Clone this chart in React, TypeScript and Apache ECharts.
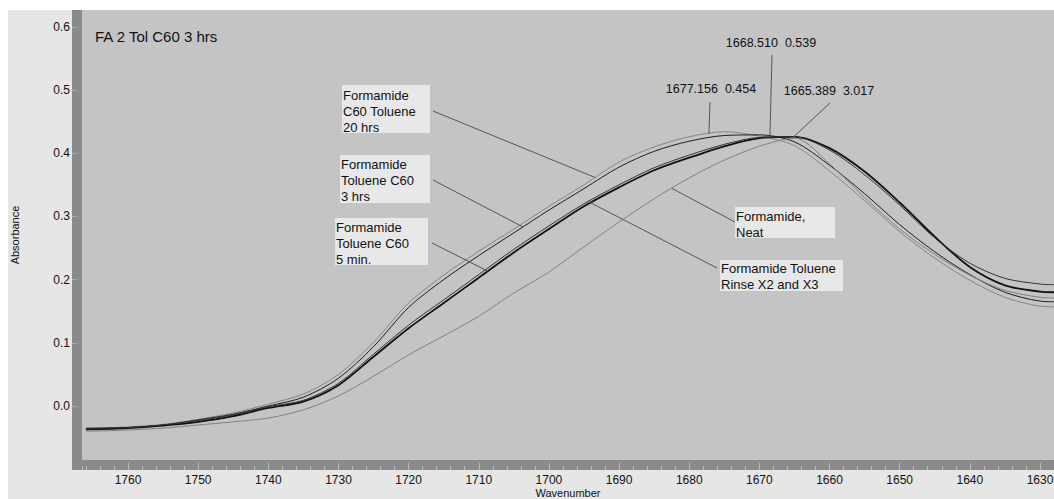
import React, { useEffect, useRef } from "react";
import * as echarts from "echarts";

const wavenumbers = [1766, 1760, 1755, 1750, 1745, 1740, 1735, 1730, 1725, 1720, 1715, 1710, 1705, 1700, 1695, 1690, 1685, 1680, 1675, 1670, 1665, 1660, 1655, 1650, 1645, 1640, 1635, 1630, 1628];

// 20 hrs (gray, highest on rising edge)
const curveT1 = [-0.036, -0.033, -0.029, -0.021, -0.011, 0.003, 0.019, 0.05, 0.101, 0.163, 0.207, 0.245, 0.28, 0.316, 0.35, 0.386, 0.41, 0.426, 0.434, 0.427, 0.412, 0.372, 0.325, 0.276, 0.234, 0.199, 0.172, 0.158, 0.157];
// 3 hrs (black)
const curveT2 = [-0.035, -0.034, -0.03, -0.022, -0.013, 0.0, 0.014, 0.044, 0.094, 0.156, 0.2, 0.238, 0.274, 0.31, 0.344, 0.378, 0.403, 0.419, 0.428, 0.429, 0.418, 0.381, 0.336, 0.287, 0.244, 0.208, 0.18, 0.166, 0.165];
// 5 min (thick black)
const curveM1 = [-0.037, -0.035, -0.031, -0.025, -0.016, -0.003, 0.007, 0.033, 0.078, 0.123, 0.163, 0.203, 0.243, 0.28, 0.316, 0.346, 0.373, 0.393, 0.411, 0.424, 0.426, 0.408, 0.371, 0.322, 0.268, 0.22, 0.191, 0.181, 0.18];
// Rinse (black)
const curveM2 = [-0.036, -0.034, -0.03, -0.023, -0.014, -0.001, 0.009, 0.036, 0.082, 0.128, 0.168, 0.208, 0.248, 0.285, 0.32, 0.35, 0.377, 0.397, 0.414, 0.425, 0.426, 0.405, 0.366, 0.318, 0.266, 0.226, 0.202, 0.193, 0.192];
// Neat (gray, lowest on rising edge)
const curveB = [-0.04, -0.038, -0.035, -0.03, -0.025, -0.019, -0.006, 0.016, 0.047, 0.081, 0.111, 0.142, 0.179, 0.212, 0.252, 0.291, 0.328, 0.361, 0.389, 0.411, 0.424, 0.383, 0.33, 0.28, 0.24, 0.207, 0.183, 0.172, 0.171];

const yTicks = [0, 0.1, 0.2, 0.3, 0.4, 0.5, 0.6];
const xMajor = [1760, 1750, 1740, 1730, 1720, 1710, 1700, 1690, 1680, 1670, 1660, 1650, 1640, 1630];

const FONT = "'Liberation Sans', Arial, sans-serif";

function interp(vals: number[], x: number): number {
  for (let i = 0; i < wavenumbers.length - 1; i++) {
    const a = wavenumbers[i], b = wavenumbers[i + 1];
    if (x <= a && x >= b) {
      const t = (a - x) / (a - b);
      return vals[i] + t * (vals[i + 1] - vals[i]);
    }
  }
  return vals[vals.length - 1];
}

export default function App() {
  const ref = useRef<HTMLDivElement>(null);
  useEffect(() => {
    const chart = echarts.init(ref.current!, null, { renderer: "svg" });
    const mk = (vals: number[]) => wavenumbers.map((w, i) => [w, vals[i]]);
    const line = (name: string, vals: number[], color: string, width: number) => ({
      name,
      type: "line",
      data: mk(vals),
      xAxisIndex: 0,
      yAxisIndex: 0,
      showSymbol: false,
      smooth: 0.3,
      lineStyle: { color, width },
      z: 3,
    });
    chart.setOption({
      animation: false,
      backgroundColor: "#e6e6e6",
      grid: {
        left: 74, right: 0, top: 0, bottom: 39, show: true, backgroundColor: "#c4c4c4", borderWidth: 0,
        containLabel: false, outerBoundsMode: "none",
      },
      xAxis: [
        {
          type: "value", min: 1628, max: 1766.56, inverse: true, position: "bottom", offset: 10, interval: 2,
          axisLine: { show: false, onZero: false },
          axisTick: { show: true, inside: true, length: 4, lineStyle: { color: "#b8b8b8" } },
          axisLabel: { show: false }, splitLine: { show: false }, z: 10,
        },
        {
          type: "value", min: 1628, max: 1766.56, inverse: true, position: "bottom", offset: 10,
          axisLine: { show: false, onZero: false },
          axisTick: { show: true, inside: true, length: 7, customValues: xMajor, lineStyle: { color: "#b8b8b8" } },
          axisLabel: { customValues: xMajor, formatter: (v: number) => String(v), color: "#111", fontSize: 12, lineHeight: 13, margin: 3, fontFamily: FONT },
          splitLine: { show: false },
          name: "Wavenumber", nameLocation: "middle", nameGap: 16.5, nameMoveOverlap: false,
          nameTextStyle: { color: "#111", fontSize: 11, lineHeight: 12, fontFamily: FONT },
          z: 10,
        },
      ],
      yAxis: {
        type: "value", min: -0.0854, max: 0.6266, offset: 10,
        axisLine: { show: false, onZero: false },
        axisTick: { show: true, inside: true, length: 5, customValues: yTicks, lineStyle: { color: "#aaaaaa" } },
        axisLabel: { customValues: yTicks, formatter: (v: number) => v.toFixed(1), color: "#111", fontSize: 12, margin: 2, fontFamily: FONT },
        splitLine: { show: false },
        name: "Absorbance", nameLocation: "middle", nameGap: 52, nameMoveOverlap: false,
        nameTextStyle: { color: "#111", fontSize: 11, fontFamily: FONT },
        z: 10,
      },
      series: [
        line("Formamide C60 Toluene 20 hrs", curveT1, "#858585", 1),
        line("Formamide Toluene C60 3 hrs", curveT2, "#1e1e1e", 1),
        line("Formamide Toluene C60 5 min.", curveM1, "#111111", 1.8),
        line("Formamide Toluene Rinse X2 and X3", curveM2, "#333333", 1),
        line("Formamide, Neat", curveB, "#808080", 1),
      ],
    });

    const px = (vals: number[], x: number) =>
      chart.convertToPixel({ xAxisIndex: 0, yAxisIndex: 0 }, [x, interp(vals, x)]) as number[];

    const callouts: [number, number, number[], number][] = [
      [425, 101, curveT1, 1693.4],
      [425, 170, curveT2, 1703.7],
      [424, 233, curveM1, 1708.7],
      [727, 212, curveB, 1682.5],
      [709, 258, curveM2, 1694.4],
      [702, 92, curveT1, 1677.2],
      [764, 45, curveM1, 1668.5],
      [822, 93, curveB, 1665.4],
    ];

    const boxes: [number, number, number, number, number, number, string][] = [
      [334, 75, 88, 48, 335, 77, "Formamide\nC60 Toluene\n20 hrs"],
      [332, 145, 90, 48, 333, 146, "Formamide\nToluene C60\n3 hrs"],
      [327, 208, 93, 47, 328, 209, "Formamide\nToluene C60\n5 min."],
      [727, 197, 100, 31, 728, 198, "Formamide,\nNeat"],
      [712, 250, 123, 31, 713, 250, "Formamide Toluene\nRinse X2 and X3"],
    ];

    const graphic: any[] = [
      { type: "rect", shape: { x: 64, y: 0, width: 10, height: 460 }, style: { fill: "#8a8a8a" }, z: 1, silent: true },
      { type: "rect", shape: { x: 64, y: 450, width: 990, height: 10 }, style: { fill: "#8a8a8a" }, z: 1, silent: true },
      { type: "text", x: 87, y: 26, style: { text: "FA 2 Tol C60 3 hrs", font: `15px ${FONT}`, fill: "#111", verticalAlign: "middle" }, z: 20 },
      { type: "text", x: 703, y: 79, style: { text: "1677.156  0.454", font: `12.5px ${FONT}`, fill: "#111", align: "center", verticalAlign: "middle" }, z: 20 },
      { type: "text", x: 763, y: 33, style: { text: "1668.510  0.539", font: `12.5px ${FONT}`, fill: "#111", align: "center", verticalAlign: "middle" }, z: 20 },
      { type: "text", x: 821, y: 81, style: { text: "1665.389  3.017", font: `12.5px ${FONT}`, fill: "#111", align: "center", verticalAlign: "middle" }, z: 20 },
    ];
    callouts.forEach(([x0, y0, vals, wx]) => {
      const p = px(vals, wx);
      graphic.push({ type: "line", shape: { x1: x0, y1: y0, x2: p[0], y2: p[1] }, style: { stroke: "#555", lineWidth: 1 }, z: 15, silent: true });
    });
    boxes.forEach(([bx, by, bw, bh, tx, ty, t]) => {
      graphic.push({ type: "rect", shape: { x: bx, y: by, width: bw, height: bh }, style: { fill: "#e8e8e8" }, z: 16, silent: true });
      graphic.push({ type: "text", x: tx, y: ty, style: { text: t, font: `13px ${FONT}`, fill: "#111", lineHeight: 16, verticalAlign: "top" }, z: 17, silent: true });
    });
    chart.setOption({ graphic });

    return () => chart.dispose();
  }, []);
  return (
    <div
      ref={ref}
      style={{ position: "absolute", left: 8, top: 10, width: 1046, height: 489 }}
    />
  );
}
